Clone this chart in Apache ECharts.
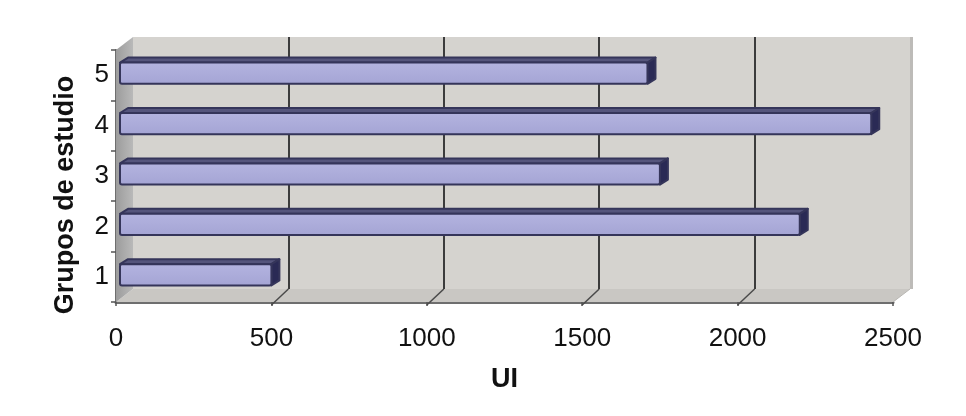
<!DOCTYPE html>
<html>
<head>
<meta charset="utf-8">
<script src="https://cdn.jsdelivr.net/npm/echarts@6.0.0/dist/echarts.min.js"></script>
<style>
  html, body { margin: 0; padding: 0; background: #fff; }
  #chart { width: 966px; height: 416px; }
</style>
</head>
<body>
<div id="chart"></div>
<script>
// data
var categories = ['1', '2', '3', '4', '5'];
var values = [500, 2200, 1750, 2430, 1710];
var xMax = 2500;
var xStep = 500;
var xName = 'UI';
var yName = 'Grupos de estudio';

// 3d look: offset of the back wall and of the bar depth
var DX = 17, DY = -13;
var BDX = 8, BDY = -5;

var font = 'Liberation Sans, Arial, sans-serif';
var front = { left: 116, top: 50, right: 73, bottom: 114 };

var myChart = echarts.init(document.getElementById('chart'));

function wallItem(params, api) {
  var cs = params.coordSys;
  var x0 = cs.x, x1 = cs.x + cs.width, y0 = cs.y, y1 = cs.y + cs.height;
  var kids = [];
  // floor
  kids.push({
    type: 'polygon',
    shape: { points: [[x0, y1], [x1, y1], [x1 + DX, y1 + DY], [x0 + DX, y1 + DY]] },
    style: { fill: '#c9c7c3' }
  });
  kids.push({
    type: 'line',
    shape: { x1: x1, y1: y1, x2: x1 + DX, y2: y1 + DY },
    style: { stroke: '#b9b7b3', lineWidth: 1 }
  });
  // left side wall
  kids.push({
    type: 'polygon',
    shape: { points: [[x0, y0], [x0 + DX, y0 + DY], [x0 + DX, y1 + DY], [x0, y1]] },
    style: {
      fill: new echarts.graphic.LinearGradient(0, 0, 1, 0, [
        { offset: 0, color: '#9c9c9c' },
        { offset: 1, color: '#b9b9b9' }
      ])
    }
  });
  // right edge of the back wall
  kids.push({
    type: 'rect',
    shape: { x: x1 + DX, y: y0 + DY, width: 3, height: cs.height },
    style: { fill: '#bdbbb8' }
  });
  return { type: 'group', children: kids };
}

function floorTick(params, api) {
  var v = api.value(0);
  var cs = params.coordSys;
  var p = api.coord([v, 0]);
  var yb = cs.y + cs.height;
  return {
    type: 'line',
    shape: { x1: p[0], y1: yb + 3, x2: p[0] + DX, y2: yb + DY },
    style: { stroke: '#4a4a4a', lineWidth: 1.5 }
  };
}

function barItem(params, api) {
  var v = api.value(0);
  var c = api.value(1);
  var s = api.coord([0, c]);
  var e = api.coord([v, c]);
  var band = api.size([0, 1])[1];
  var h = band * 0.42;
  var x0 = s[0] + 4, x1 = e[0];
  var y0 = s[1] - h / 2 - 2;
  var outline = { stroke: '#35355a', lineWidth: 2, lineJoin: 'round' };
  return {
    type: 'group',
    children: [
      {
        type: 'polygon',
        shape: { points: [[x0, y0], [x1, y0], [x1 + BDX, y0 + BDY], [x0 + BDX, y0 + BDY]] },
        style: Object.assign({ fill: '#55557c' }, outline)
      },
      {
        type: 'polygon',
        shape: { points: [[x1, y0], [x1 + BDX, y0 + BDY], [x1 + BDX, y0 + h + BDY], [x1, y0 + h]] },
        style: Object.assign({ fill: '#2a2a55' }, outline)
      },
      {
        type: 'rect',
        shape: { x: x0, y: y0, width: x1 - x0, height: h, r: 2 },
        style: Object.assign({
          fill: new echarts.graphic.LinearGradient(0, 0, 0, 1, [
            { offset: 0, color: '#b4b4e0' },
            { offset: 1, color: '#a4a4d4' }
          ])
        }, outline)
      }
    ]
  };
}

var ticks = [];
for (var t = xStep; t < xMax; t += xStep) ticks.push([t, 0]);

option = {
  backgroundColor: '#ffffff',
  animation: false,
  grid: [
    // front plane (labels, axes)
    { left: front.left, top: front.top, right: front.right, bottom: front.bottom },
    // back wall
    {
      left: front.left + DX, top: front.top + DY,
      right: front.right - DX, bottom: front.bottom - DY,
      show: true, backgroundColor: '#d5d3cf', borderWidth: 0
    }
  ],
  xAxis: [
    {
      gridIndex: 0, type: 'value', min: 0, max: xMax, interval: xStep,
      name: xName, nameLocation: 'middle', nameGap: 64,
      nameTextStyle: { fontFamily: font, fontSize: 27, fontWeight: 'bold', color: '#111' },
      axisLine: { show: true, lineStyle: { color: '#6e6e6e', width: 3 } },
      axisTick: { show: true, length: 4, lineStyle: { color: '#555', width: 1.5 } },
      axisLabel: {
        fontFamily: font, fontSize: 26, color: '#111', margin: 24,
        formatter: function (v) { return String(v); }
      },
      splitLine: { show: false }
    },
    {
      gridIndex: 1, type: 'value', min: 0, max: xMax, interval: xStep,
      axisLine: { show: false }, axisTick: { show: false }, axisLabel: { show: false },
      splitLine: { show: true, showMinLine: false, showMaxLine: false, lineStyle: { color: '#3c3c3c', width: 2 } }
    }
  ],
  yAxis: [
    {
      gridIndex: 0, type: 'category', data: categories,
      name: yName, nameLocation: 'middle', nameGap: 37,
      nameTextStyle: { fontFamily: font, fontSize: 27, fontWeight: 'bold', color: '#111', padding: [0, 38, 0, 0] },
      axisLine: { show: true, lineStyle: { color: '#6e6e6e', width: 2 } },
      axisTick: { show: true, length: 5, lineStyle: { color: '#555', width: 1.5 } },
      axisLabel: { fontFamily: font, fontSize: 26, color: '#111', margin: 7 },
      splitLine: { show: false }
    },
    {
      gridIndex: 1, type: 'category', data: categories,
      axisLine: { show: false }, axisTick: { show: false }, axisLabel: { show: false },
      splitLine: { show: false }
    }
  ],
  series: [
    {
      type: 'custom', xAxisIndex: 0, yAxisIndex: 0, z: 1,
      renderItem: wallItem, data: [[0, 0]], silent: true
    },
    {
      type: 'custom', xAxisIndex: 0, yAxisIndex: 0, z: 2,
      renderItem: floorTick, data: ticks, silent: true
    },
    {
      type: 'custom', xAxisIndex: 0, yAxisIndex: 0, z: 3,
      renderItem: barItem,
      data: values.map(function (v, i) { return [v, i]; })
    }
  ]
};

if (option && typeof option === 'object') {
  myChart.setOption(option, true);
}
</script>
</body>
</html>
